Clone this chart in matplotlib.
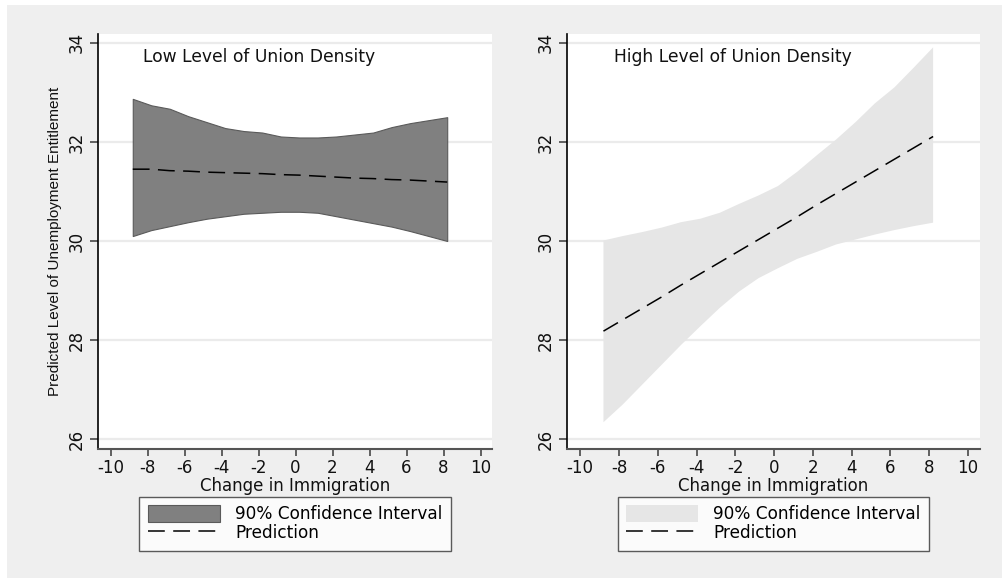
import matplotlib
matplotlib.use("Agg")
import matplotlib.pyplot as plt
from matplotlib.patches import Rectangle

plt.rcParams["axes.unicode_minus"] = False

# predicted unemployment entitlement over change in immigration
immigration = [-8.8, -7.8, -6.8, -5.8, -4.8, -3.8, -2.8, -1.8, -0.8,
               0.2, 1.2, 2.2, 3.2, 4.2, 5.2, 6.2, 7.2, 8.2]

low_upper = [32.87, 32.74, 32.67, 32.52, 32.40, 32.28, 32.22, 32.19, 32.11,
             32.09, 32.09, 32.11, 32.15, 32.19, 32.30, 32.38, 32.44, 32.50]
low_lower = [30.10, 30.22, 30.30, 30.38, 30.45, 30.50, 30.55, 30.57, 30.59,
             30.59, 30.57, 30.50, 30.43, 30.36, 30.29, 30.20, 30.10, 30.00]
low_pred = [31.45, 31.45, 31.42, 31.41, 31.39, 31.38, 31.37, 31.36, 31.34,
            31.33, 31.31, 31.29, 31.27, 31.26, 31.24, 31.23, 31.21, 31.19]

high_upper = [30.01, 30.10, 30.18, 30.27, 30.38, 30.45, 30.57, 30.75, 30.92,
              31.11, 31.40, 31.73, 32.05, 32.40, 32.78, 33.10, 33.50, 33.91]
high_lower = [26.34, 26.70, 27.10, 27.50, 27.90, 28.28, 28.65, 28.98, 29.25,
              29.45, 29.64, 29.78, 29.93, 30.03, 30.13, 30.22, 30.30, 30.37]
high_pred = [28.18, 28.41, 28.64, 28.87, 29.11, 29.34, 29.57, 29.80, 30.03,
             30.26, 30.49, 30.73, 30.96, 31.19, 31.42, 31.65, 31.88, 32.11]

x_ticks = list(range(-10, 11, 2))
y_ticks = [26, 28, 30, 32, 34]

fig = plt.figure(figsize=(10.03, 5.78), dpi=100, facecolor="white")
fig.patches.append(Rectangle((7 / 1003, 0), 1, 573 / 578, transform=fig.transFigure,
                             facecolor="#efefef", edgecolor="none", zorder=-10))

panels = [
    (0.0977, 0.3928, "Low Level of Union Density", low_upper, low_lower, low_pred,
     dict(facecolor="#808080", edgecolor="#5a5a5a", linewidth=0.8), True),
    (0.5653, 0.4118, "High Level of Union Density", high_upper, high_lower, high_pred,
     dict(facecolor="#e6e6e6", edgecolor="none"), False),
]

for left, width, title, upper, lower, pred, fill_kw, show_ylabel in panels:
    ax = fig.add_axes([left, 0.2232, width, 0.718])
    ax.set_facecolor("white")
    ci = ax.fill_between(immigration, lower, upper, zorder=2, **fill_kw)
    line, = ax.plot(immigration, pred, color="black", linestyle=(0, (11, 5.5)),
                    linewidth=1.1, zorder=3)

    ax.set_xlim(-10.68, 10.62)
    ax.set_ylim(25.8, 34.18)
    ax.set_xticks(x_ticks)
    ax.set_yticks(y_ticks)
    ax.grid(True, axis="y", color="#ebebeb", linewidth=1.6, zorder=0)
    ax.set_axisbelow(True)

    for side in ("top", "right"):
        ax.spines[side].set_visible(False)
    ax.spines["left"].set_color("black")
    ax.spines["left"].set_linewidth(1.2)
    ax.spines["bottom"].set_color("#555555")
    ax.spines["bottom"].set_linewidth(1.5)

    ax.tick_params(axis="y", direction="out", length=6, width=1.3, color="#555555",
                   labelsize=12, pad=3, labelcolor="#111111")
    ax.tick_params(axis="x", direction="out", length=5, width=1.3, color="#555555",
                   labelsize=12, pad=2, labelcolor="#111111")
    for lbl in ax.get_yticklabels():
        lbl.set_rotation(90)
        lbl.set_va("center")

    ax.set_xlabel("Change in Immigration", fontsize=12, labelpad=0, color="#111111")
    if show_ylabel:
        ax.set_ylabel("Predicted Level of Unemployment Entitlement", fontsize=11,
                      family="Liberation Sans", labelpad=4, color="#111111")

    ax.text(0.114, 0.944, title, transform=ax.transAxes, fontsize=12.3,
            ha="left", va="center", color="#111111")

    leg = ax.legend([ci, line], ["90% Confidence Interval", "Prediction"],
                    loc="upper center", bbox_to_anchor=(0.5, -0.115),
                    fontsize=12.2, frameon=True, fancybox=False, handlelength=4.25,
                    handleheight=1.1, handletextpad=0.9, borderpad=0.5,
                    borderaxespad=0, labelspacing=0.05)
    leg.get_frame().set_edgecolor("#333333")
    leg.get_frame().set_linewidth(1.0)

fig.savefig("out.png", dpi=100, facecolor=fig.get_facecolor())
